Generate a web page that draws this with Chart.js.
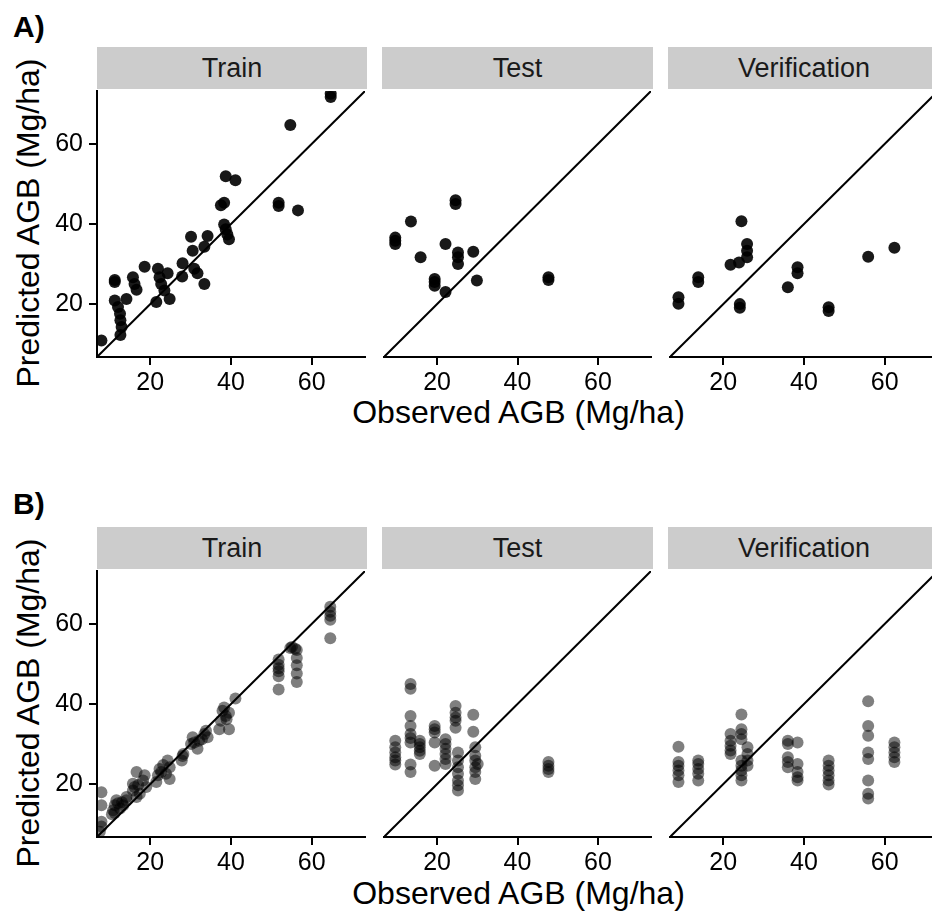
<!DOCTYPE html>
<html lang="en">
<head>
    <meta charset="UTF-8">
    <title>Observed vs predicted AGB</title>
    <script src="https://cdn.jsdelivr.net/npm/chart.js"></script>
    <style>
        html, body {
            margin: 0;
            padding: 0;
            background: #fff;
        }
        body {
            width: 932px;
            height: 917px;
            position: relative;
            overflow: hidden;
            font-family: "Liberation Sans", Arial, sans-serif;
            color: #000;
        }
        .tag {
            position: absolute;
            font-weight: bold;
            font-size: 30px;
            line-height: 30px;
        }
        .strip {
            position: absolute;
            height: 42px;
            line-height: 42px;
            background: #cccccc;
            text-align: center;
            font-size: 27px;
            color: #1a1a1a;
        }
        .xtitle {
            position: absolute;
            left: 97px;
            width: 843px;
            text-align: center;
            font-size: 32px;
            line-height: 36px;
        }
        .ytitle {
            position: absolute;
            width: 400px;
            text-align: center;
            font-size: 32px;
            line-height: 36px;
            transform: rotate(-90deg);
        }
        canvas {
            position: absolute;
        }
    </style>
</head>
<body>
    <div class="tag" style="left:13px; top:12px;">A)</div>
    <div class="tag" style="left:13px; top:489px;">B)</div>

    <div class="xtitle" style="top:394px;">Observed AGB (Mg/ha)</div>
    <div class="xtitle" style="top:875px;">Observed AGB (Mg/ha)</div>
    <div class="ytitle" style="left:-172px; top:205px;">Predicted AGB (Mg/ha)</div>
    <div class="ytitle" style="left:-172px; top:685px;">Predicted AGB (Mg/ha)</div>

    <script>
        // axis range and ticks shared by every panel
        const axisMin = 6.8;
        const axisMax = 73.2;
        const tickValues = [20, 40, 60];
        const stripNames = ['Train', 'Test', 'Verification'];

        // A) observed / predicted
        const trainObsA = [7.9, 12.6, 11.2, 11.2, 11.2, 12.0, 12.5, 12.6, 12.9, 14.1, 15.7, 16.1, 16.6, 18.6,
            21.5, 21.9, 22.3, 22.7, 23.5, 24.3, 24.8, 27.9, 28.0, 30.1, 30.5, 30.9, 31.7, 33.4, 33.4, 34.2,
            37.5, 38.3, 38.7, 41.1, 38.3, 38.7, 39.1, 39.5, 51.8, 51.8, 56.6, 54.7, 64.7, 64.7];
        const trainPredA = [10.9, 12.3, 25.5, 26.0, 20.9, 19.3, 17.6, 16.0, 14.3, 21.3, 26.7, 25.0, 23.6, 29.3,
            20.5, 28.8, 26.7, 25.0, 23.4, 27.7, 21.3, 26.9, 30.2, 36.8, 33.3, 28.8, 27.7, 34.3, 25.0, 37.0,
            44.7, 45.3, 51.9, 50.9, 39.9, 38.7, 37.4, 36.2, 45.3, 44.5, 43.4, 64.7, 72.5, 71.7];

        const testObsA = [9.6, 9.6, 9.6, 13.5, 15.9, 19.4, 19.4, 19.4, 22.1, 22.1, 24.6, 24.6, 25.2, 25.2,
            25.2, 29.0, 29.9, 47.7, 47.7];
        const testPredA = [36.6, 35.8, 35.0, 40.6, 31.7, 26.3, 25.5, 24.6, 35.0, 23.0, 45.9, 45.0, 32.9, 31.7,
            30.0, 33.1, 25.9, 26.7, 26.0];

        const verifObsA = [8.9, 8.9, 13.8, 13.8, 21.8, 23.9, 24.5, 24.1, 24.1, 25.9, 25.9, 25.9, 36.0, 38.4,
            38.4, 46.1, 46.1, 55.9, 62.4];
        const verifPredA = [21.7, 20.1, 26.7, 25.5, 29.8, 30.4, 40.7, 20.0, 19.1, 35.0, 33.3, 31.7, 24.2, 29.2,
            27.7, 19.2, 18.3, 31.8, 34.1];

        // B) observed / predicted
        const trainObsB = [7.9, 7.9, 7.9, 7.9, 7.5,
            10.8, 11.2, 11.6, 12.5, 13.3, 14.1, 14.1, 11.2, 12.0, 13.0, 10.5,
            15.7, 15.7, 16.1, 16.6, 16.6, 17.4, 18.2, 18.6, 19.0, 17.0,
            21.5, 21.9, 22.3, 22.7, 23.9, 24.3, 24.8, 24.8, 23.2,
            27.8, 28.2, 28.0, 30.1, 30.5, 30.9, 31.7, 32.1, 33.4, 33.8, 34.2, 32.8,
            37.5, 37.9, 38.3, 38.7, 39.5, 37.1, 39.5, 41.1, 38.9,
            51.8, 51.8, 51.8, 51.8, 51.8, 51.8,
            54.7, 55.1, 55.9, 56.3, 56.3, 56.3, 56.3, 56.3,
            64.6, 64.6, 64.6, 64.6, 64.6];
        const trainPredB = [18.0, 14.7, 10.6, 9.4, 8.1,
            13.5, 14.7, 16.0, 13.9, 14.7, 16.0, 16.8, 12.8, 15.2, 15.5, 12.5,
            18.4, 20.1, 19.3, 16.8, 23.0, 17.6, 20.9, 22.2, 19.3, 19.8,
            20.5, 22.2, 23.8, 23.0, 22.6, 25.9, 21.3, 24.2, 24.8,
            25.9, 27.5, 27.0, 30.0, 31.7, 30.4, 28.8, 30.8, 32.5, 33.3, 31.7, 31.2,
            35.8, 38.3, 39.1, 37.0, 37.8, 33.7, 33.7, 41.4, 36.2,
            51.1, 49.8, 48.2, 46.9, 43.6, 48.9,
            54.0, 54.2, 53.8, 53.5, 51.5, 49.7, 47.6, 45.5,
            64.3, 63.0, 62.0, 61.0, 56.4];

        const testObsB = [9.6, 9.6, 9.6, 9.6, 9.6, 9.6,
            13.4, 13.4, 13.4, 13.4, 13.4, 13.4, 13.4, 13.4, 13.4,
            15.7, 15.7, 15.7, 15.7, 15.7,
            19.4, 19.4, 19.4, 19.4, 19.4,
            22.1, 22.1, 22.1, 22.1, 22.1, 22.1,
            24.6, 24.6, 24.6, 24.6, 24.6,
            25.2, 25.2, 25.2, 25.2, 25.2, 25.2, 25.2,
            29.0, 29.0, 29.5, 29.5, 29.5, 29.5, 29.5, 29.5, 30.1,
            47.7, 47.7, 47.7, 47.7];
        const testPredB = [30.8, 29.2, 27.9, 26.7, 25.9, 24.9,
            45.0, 43.8, 37.0, 34.5, 32.5, 31.5, 30.4, 24.9, 23.0,
            30.8, 30.0, 29.2, 28.3, 27.5,
            34.5, 33.7, 32.9, 30.4, 24.6,
            31.2, 30.0, 28.8, 27.5, 26.3, 25.0,
            39.5, 37.8, 36.6, 35.8, 34.1,
            27.9, 25.9, 24.2, 22.6, 20.9, 19.7, 18.4,
            37.3, 33.1, 29.2, 27.1, 25.9, 24.2, 23.0, 21.3, 25.0,
            25.5, 24.6, 23.8, 23.0];

        const verifObsB = [8.9, 8.9, 8.9, 8.9, 8.9, 8.9,
            13.8, 13.8, 13.8, 13.8, 13.8,
            21.8, 21.8, 21.8, 21.8, 21.8,
            24.5, 24.5, 24.5, 24.5, 24.5, 24.5, 24.5, 24.5, 24.5,
            26.0, 26.0, 26.0, 26.0,
            36.0, 36.0, 36.0, 36.0, 36.0,
            38.4, 38.4, 38.4, 38.4, 38.4,
            46.1, 46.1, 46.1, 46.1, 46.1, 46.1,
            55.9, 55.9, 55.9, 55.9, 55.9, 55.9, 55.9, 55.9,
            62.4, 62.4, 62.4, 62.4, 62.4];
        const verifPredB = [29.3, 25.5, 24.6, 23.4, 22.2, 20.5,
            25.9, 25.0, 23.8, 22.6, 20.9,
            32.5, 30.8, 29.6, 28.4, 27.5,
            37.4, 33.7, 32.5, 31.2, 25.9, 24.6, 23.4, 22.2, 20.9,
            29.2, 27.5, 25.9, 24.6,
            30.8, 30.0, 26.7, 25.5, 24.2,
            30.4, 25.0, 23.0, 21.7, 20.9,
            25.9, 24.6, 23.4, 22.2, 20.9, 19.9,
            40.7, 34.5, 32.1, 27.9, 26.3, 20.9, 17.6, 16.4,
            30.4, 29.2, 27.9, 26.7, 25.5];

        const rows = [
            { obs: [trainObsA, testObsA, verifObsA], pred: [trainPredA, testPredA, verifPredA], alpha: 0.9 },
            { obs: [trainObsB, testObsB, verifObsB], pred: [trainPredB, testPredB, verifPredB], alpha: 0.5 }
        ];

        // panel placement on the page
        const colLeft = [97, 382, 668];
        const colWidth = [270, 271, 272];
        const rowTop = [89, 569];
        const panelH = 268;
        const yAxisW = 82;
        const xAxisH = 46;
        const pad = 4;

        Chart.defaults.font.family = '"Liberation Sans", Arial, sans-serif';
        Chart.defaults.color = '#000';

        // keep the plot area exactly where it is placed: no label-overhang padding
        function noOverhang(s) {
            s.paddingLeft = 0;
            s.paddingRight = 0;
            s.paddingTop = 0;
            s.paddingBottom = 0;
        }

        function makePanel(r, c) {
            const left = colLeft[c], top = rowTop[r], w = colWidth[c];
            const axisW = c === 0 ? yAxisW : 0;

            // grey facet strip above the panel
            const strip = document.createElement('div');
            strip.className = 'strip';
            strip.style.left = left + 'px';
            strip.style.top = (top - 42) + 'px';
            strip.style.width = w + 'px';
            strip.textContent = stripNames[c];
            document.body.appendChild(strip);

            const canvas = document.createElement('canvas');
            const cw = axisW + w + 2 * pad;
            const ch = panelH + xAxisH + pad;
            canvas.width = cw;
            canvas.height = ch;
            canvas.style.width = cw + 'px';
            canvas.style.height = ch + 'px';
            canvas.style.left = (left - axisW - pad) + 'px';
            canvas.style.top = (top - pad) + 'px';
            document.body.appendChild(canvas);

            const obs = rows[r].obs[c];
            const pred = rows[r].pred[c];
            const pts = obs.map((v, i) => ({ x: v, y: pred[i] }));

            const axisStyle = {
                border: { display: true, color: '#000', width: 2 },
                grid: { display: true, drawOnChartArea: false, drawTicks: true, tickLength: 8, color: '#000', lineWidth: 2 }
            };

            new Chart(canvas, {
                type: 'scatter',
                data: {
                    datasets: [{
                        data: pts,
                        pointRadius: 6,
                        pointHoverRadius: 6,
                        borderWidth: 0,
                        backgroundColor: 'rgba(0,0,0,' + rows[r].alpha + ')'
                    }, {
                        data: [{ x: axisMin, y: axisMin }, { x: axisMax, y: axisMax }],
                        showLine: true,
                        borderColor: '#000',
                        borderWidth: 2,
                        pointRadius: 0,
                        clip: 0
                    }]
                },
                options: {
                    responsive: false,
                    animation: false,
                    devicePixelRatio: 1,
                    layout: { padding: { left: pad, right: pad, top: pad, bottom: 0 } },
                    plugins: { legend: { display: false }, tooltip: { enabled: false } },
                    scales: {
                        x: {
                            type: 'linear',
                            min: axisMin,
                            max: axisMax,
                            afterBuildTicks: s => { s.ticks = tickValues.map(v => ({ value: v })); },
                            afterFit: s => { s.height = xAxisH; noOverhang(s); },
                            ticks: { font: { size: 25 }, padding: 3, maxRotation: 0 },
                            ...axisStyle
                        },
                        y: {
                            type: 'linear',
                            display: c === 0,
                            min: axisMin,
                            max: axisMax,
                            afterBuildTicks: s => { s.ticks = tickValues.map(v => ({ value: v })); },
                            afterFit: s => { s.width = axisW; noOverhang(s); },
                            ticks: { font: { size: 25 }, padding: 6 },
                            ...axisStyle
                        }
                    }
                }
            });
        }

        for (let r = 0; r < 2; r++) {
            for (let c = 0; c < 3; c++) makePanel(r, c);
        }
    </script>
</body>
</html>
